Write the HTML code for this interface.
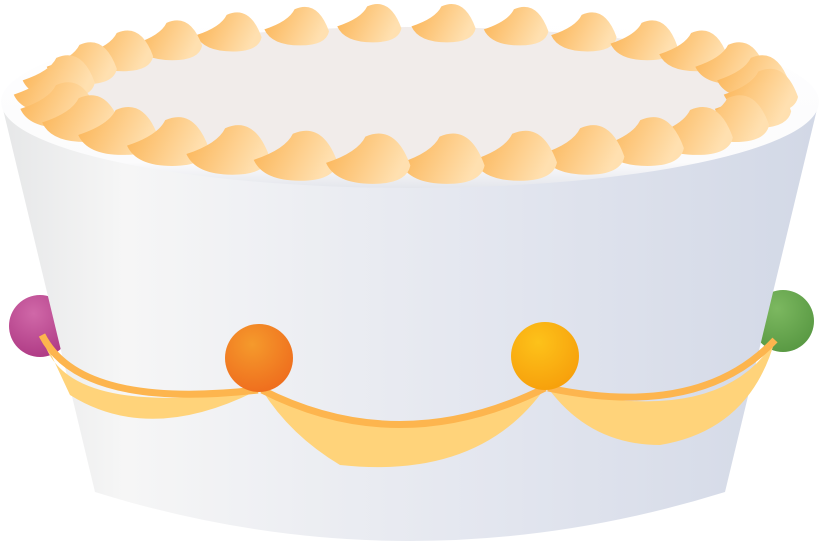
<!DOCTYPE html>
<html><head><meta charset="utf-8"><style>
html,body{margin:0;padding:0;background:#fff;width:820px;height:547px;overflow:hidden}
</style></head><body>
<svg id="cake" width="820" height="547" viewBox="0 0 820 547" xmlns="http://www.w3.org/2000/svg">
<defs>
<linearGradient id="body" x1="0" y1="0" x2="1" y2="0">
<stop offset="0" stop-color="#e6e7e8"/><stop offset="0.15" stop-color="#f6f6f6"/><stop offset="0.6" stop-color="#e3e6ef"/><stop offset="1" stop-color="#d2d8e6"/>
</linearGradient>
<linearGradient id="rim" x1="0" y1="0" x2="0" y2="1">
<stop offset="0" stop-color="#ffffff"/><stop offset="0.85" stop-color="#fbfbfc"/><stop offset="1" stop-color="#e4e6ec"/>
</linearGradient>
<linearGradient id="dollop" x1="0" y1="0" x2="1" y2="0.3">
<stop offset="0" stop-color="#fbb251"/><stop offset="1" stop-color="#ffe0b0"/>
</linearGradient>
<radialGradient id="ballO" cx="0.4" cy="0.3" r="0.7"><stop offset="0" stop-color="#f59a2c"/><stop offset="1" stop-color="#ef6f1e"/></radialGradient>
<radialGradient id="ballY" cx="0.4" cy="0.3" r="0.7"><stop offset="0" stop-color="#fdc21a"/><stop offset="1" stop-color="#f7a10c"/></radialGradient>
<radialGradient id="ballM" cx="0.4" cy="0.3" r="0.7"><stop offset="0" stop-color="#d068a8"/><stop offset="1" stop-color="#b03c86"/></radialGradient>
<radialGradient id="ballG" cx="0.4" cy="0.3" r="0.7"><stop offset="0" stop-color="#7cb860"/><stop offset="1" stop-color="#5a9a44"/></radialGradient>
</defs>
<circle cx="40" cy="326" r="31" fill="url(#ballM)"/>
<circle cx="783" cy="321" r="31" fill="url(#ballG)"/>
<path d="M2,105 L95,492 Q410,590 725,492 L818,105 Z" fill="url(#body)"/>
<ellipse cx="410" cy="102" rx="409" ry="86" fill="url(#rim)"/>
<ellipse cx="410" cy="95" rx="380" ry="68" fill="#f1ecea"/>
<g id="dollops"></g>
<g>
<path d="M42,335 Q60,420 258,390 Q150,445 70,395 Z" fill="#ffd37a"/>
<path d="M42,335 Q80,410 258,390" fill="none" stroke="#fdb54e" stroke-width="7"/>
<path d="M262,390 Q400,455 545,388 Q480,480 340,465 Q290,435 262,390 Z" fill="#ffd37a"/>
<path d="M262,390 Q400,460 545,388" fill="none" stroke="#fdb54e" stroke-width="7"/>
<path d="M548,388 Q720,430 775,340 Q750,430 660,445 Q590,445 548,388 Z" fill="#ffd37a"/>
<path d="M548,388 Q700,420 775,340" fill="none" stroke="#fdb54e" stroke-width="7"/>
</g>
<circle cx="259" cy="358" r="34" fill="url(#ballO)"/>
<circle cx="545" cy="356" r="34" fill="url(#ballY)"/>
</svg>
<script>
const g=document.getElementById('dollops');
const ns='http://www.w3.org/2000/svg';
const n=30;
const items=[];
for(let i=0;i<n;i++){
  const a=i/n*Math.PI*2;
  const x=410+355*Math.cos(a), y=90+68*Math.sin(a);
  items.push({x,y});
}
items.sort((p,q)=>p.y-q.y);
items.forEach(p=>{
  const s=0.95+0.3*(p.y-22)/136;
  const w=30*s,h=21*s;
  const e=document.createElementNS(ns,'path');
  e.setAttribute('d',`M${p.x-w*1.25},${p.y+h*0.2} Q${p.x-w*0.4},${p.y-h*0.2} ${p.x-w*0.2},${p.y-h*0.8} Q${p.x+w*0.6},${p.y-h*1.3} ${p.x+w},${p.y+h*0.3} Q${p.x+w*0.9},${p.y+h} ${p.x},${p.y+h} Q${p.x-w},${p.y+h} ${p.x-w*1.25},${p.y+h*0.2} Z`);
  e.setAttribute('fill','url(#dollop)');
  
  
  g.appendChild(e);
});
</script>
</body></html>
